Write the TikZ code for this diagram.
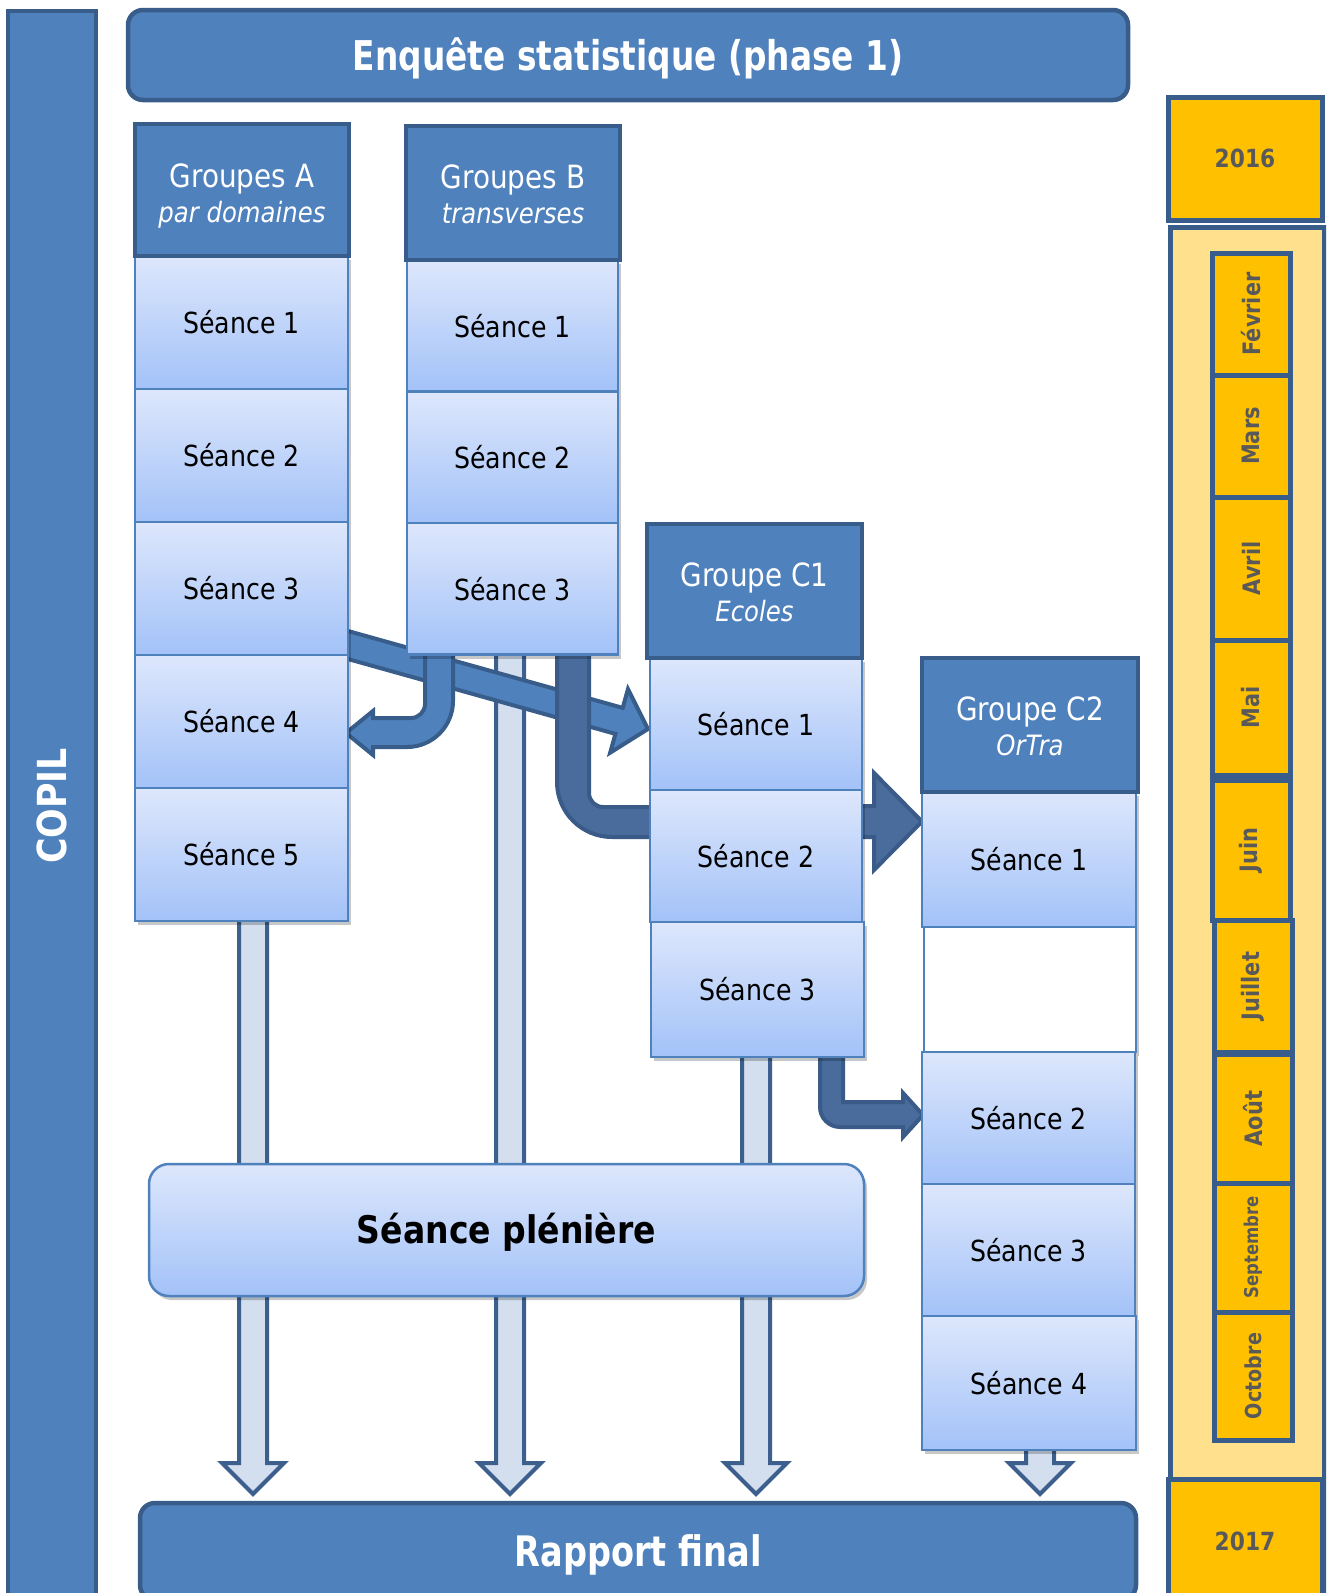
\documentclass[tikz,border=0pt]{standalone}
\usepackage{fontspec}
\setmainfont{DejaVu Sans}[FakeStretch=0.87]
\newfontfamily\narrowsans{DejaVu Sans}[FakeStretch=0.8]
\usetikzlibrary{calc,shadows}
\definecolor{hdr}{HTML}{4F81BD}
\definecolor{hdrline}{HTML}{385D8A}
\definecolor{setop}{HTML}{DDE7FC}
\definecolor{sebot}{HTML}{A3C2F8}
\definecolor{seline}{HTML}{4F81BD}
\definecolor{lightfill}{HTML}{D3DFEE}
\definecolor{lightline}{HTML}{3C5F8E}
\definecolor{darkfill}{HTML}{4A6C9C}
\definecolor{darkline}{HTML}{3A5A87}
\definecolor{gold}{HTML}{FFC000}
\definecolor{paleyellow}{HTML}{FFE08C}
\definecolor{greytext}{HTML}{595959}
\pgfdeclarelayer{arrowsback}
\pgfdeclarelayer{arrowsfront}
\pgfsetlayers{arrowsback,arrowsfront,main}
\tikzset{
  hdrbox/.style={draw=hdrline, fill=hdr, line width=4.5pt, text=white, align=center, inner sep=0pt},
  banner/.style={hdrbox, rounded corners=15pt, text height=30pt, text depth=0pt,
     font=\narrowsans\bfseries\fontsize{41}{46}\selectfont},
  grouphdr/.style={hdrbox},
  hdrtext/.style={text=white, align=center, font=\fontsize{32}{35}\selectfont},
  seancebox/.style={draw=seline, line width=2.5pt, top color=setop, bottom color=sebot, inner sep=0pt,
     font=\fontsize{29}{34}\selectfont,
     drop shadow={shadow xshift=3pt, shadow yshift=-4pt, opacity=0.22, fill=black}},
  blankbox/.style={draw=seline, line width=2.5pt, fill=white,
     drop shadow={shadow xshift=3pt, shadow yshift=-4pt, opacity=0.22, fill=black}},
  plenbox/.style={seancebox, rounded corners=20pt, text height=27.7pt, text depth=0pt,
     font=\bfseries\fontsize{38}{42}\selectfont},
  yearbox/.style={draw=hdrline, fill=gold, line width=5pt, text=greytext, inner sep=0pt,
     font=\bfseries\fontsize{25}{30}\selectfont},
  panelbox/.style={draw=hdrline, fill=paleyellow, line width=5pt, inner sep=0pt},
  monthbox/.style={draw=hdrline, fill=gold, line width=5pt, text=greytext, inner sep=0pt, rotate=90,
     minimum height=78pt, font=\bfseries\fontsize{24}{28}\selectfont},
  lightarr/.style={draw=lightline, fill=lightfill, line width=4pt},
  midarr/.style={draw=hdrline, fill=hdr, line width=4pt},
  darkarr/.style={draw=darkline, fill=darkfill, line width=4pt},
}
\newcommand\lightdown[2]{%
  \draw[lightarr] ($(#1)+(-14,-8)$) -- ($(#2)+(-14,-31)$) -- ($(#2)+(-31,-31)$) -- (#2)
    -- ($(#2)+(31,-31)$) -- ($(#2)+(14,-31)$) -- ($(#1)+(14,-8)$) -- cycle;}
\begin{document}
\begin{tikzpicture}[x=1pt,y=-1pt]
\useasboundingbox (0,0) rectangle (1326,1593);
\clip (0,0) rectangle (1326,1593);

% COPIL bar and title banners
\node[hdrbox, rotate=90, minimum width=1590pt, minimum height=88pt,
      font=\bfseries\fontsize{40}{44}\selectfont] (copil) at (52,806) {COPIL};
\node[banner, minimum width=1000pt, minimum height=90pt] (enq) at (628,55) {Enquête statistique (phase 1)};

% Groupes A
\node[seancebox, minimum width=213pt, minimum height=133pt] (A1) at (241.5,322.5) {Séance 1};
\node[seancebox, minimum width=213pt, minimum height=133pt] (A2) at (241.5,455.5) {Séance 2};
\node[seancebox, minimum width=213pt, minimum height=133pt] (A3) at (241.5,588.5) {Séance 3};
\node[seancebox, minimum width=213pt, minimum height=133pt] (A4) at (241.5,721.5) {Séance 4};
\node[seancebox, minimum width=213pt, minimum height=133pt] (A5) at (241.5,854.5) {Séance 5};
\node[grouphdr, minimum width=214pt, minimum height=132pt,
      label={[hdrtext, yshift=-6pt]center:Groupes A\\{\fontsize{28}{35}\selectfont\itshape par domaines}}]
  (GA) at (242,190) {};

% Groupes B
\node[seancebox, minimum width=211pt, minimum height=131.5pt] (B1) at (512.5,325.75) {Séance 1};
\node[seancebox, minimum width=211pt, minimum height=131.5pt] (B2) at (512.5,457.25) {Séance 2};
\node[seancebox, minimum width=211pt, minimum height=131.5pt] (B3) at (512.5,588.75) {Séance 3};
\node[grouphdr, minimum width=214pt, minimum height=134pt,
      label={[hdrtext, yshift=-1pt]center:Groupes B\\{\fontsize{28}{35}\selectfont\itshape transverses}}]
  (GB) at (513,193) {};

% Groupe C1
\node[seancebox, minimum width=212pt, minimum height=132pt] (C11) at (756,724) {Séance 1};
\node[seancebox, minimum width=212pt, minimum height=132pt] (C12) at (756,856) {Séance 2};
\node[seancebox, minimum width=213pt, minimum height=135pt] (C13) at (757.5,989.5) {Séance 3};
\node[grouphdr, minimum width=215pt, minimum height=134pt,
      label={[hdrtext, yshift=-1pt]center:Groupe C1\\{\fontsize{28}{35}\selectfont\itshape Ecoles}}]
  (GC1) at (754.5,591) {};

% Groupe C2
\node[seancebox, minimum width=214pt, minimum height=135pt] (C21) at (1029,859.5) {Séance 1};
\node[blankbox, minimum width=212pt, minimum height=125pt] (C2b) at (1030,989.5) {};
\node[seancebox, minimum width=213pt, minimum height=132pt] (C22) at (1028.5,1118) {Séance 2};
\node[seancebox, minimum width=213pt, minimum height=132pt] (C23) at (1028.5,1250) {Séance 3};
\node[seancebox, minimum width=214pt, minimum height=134pt] (C24) at (1029,1383) {Séance 4};
\node[grouphdr, minimum width=216pt, minimum height=134pt,
      label={[hdrtext, yshift=-1pt]center:Groupe C2\\{\fontsize{28}{35}\selectfont\itshape OrTra}}]
  (GC2) at (1030,725) {};

% Plenary and final report
\node[plenbox, minimum width=715pt, minimum height=132pt] (plen) at (506.5,1230) {Séance plénière};
\node[banner, minimum width=996pt, minimum height=97pt, font=\narrowsans\bfseries\fontsize{42}{46}\selectfont]
  (rap) at (638,1551.5) {Rapport final};

% Timeline
\node[yearbox, minimum width=154pt, minimum height=123pt] (y16) at (1245,158.5) {2016};
\node[panelbox, anchor=north west, minimum width=154pt, minimum height=1390pt] (panel) at (1168,225) {};
\node[yearbox, minimum width=154pt, minimum height=124pt] (y17) at (1245,1541) {2017};
\node[monthbox, minimum width=122pt] (m2) at (1251,314) {Février};
\node[monthbox, minimum width=122pt] (m3) at (1251,436) {Mars};
\node[monthbox, minimum width=143pt] (m4) at (1251,568.5) {Avril};
\node[monthbox, minimum width=135pt] (m5) at (1251,707.5) {Mai};
\node[monthbox, minimum width=140pt] (m6) at (1251,850) {Juin};
\node[monthbox, minimum width=132pt] (m7) at (1253,986) {Juillet};
\node[monthbox, minimum width=129pt] (m8) at (1253,1118.5) {Août};
\node[monthbox, minimum width=129pt, font=\bfseries\fontsize{19}{22}\selectfont] (m9) at (1253,1247.5) {Septembre};
\node[monthbox, minimum width=128pt, font=\bfseries\fontsize{22}{26}\selectfont] (m10) at (1253,1376) {Octobre};

% Light arrows towards the final report
\begin{pgfonlayer}{arrowsback}
  \coordinate (t1) at (253,1494);  \coordinate (s1) at (A5.south -| t1);
  \coordinate (t2) at (510,1494);  \coordinate (s2) at (B3.south -| t2);
  \coordinate (t3) at (756,1494);  \coordinate (s3) at (C13.south -| t3);
  \coordinate (t4) at (1040,1494); \coordinate (s4) at (C24.south -| t4);
  \lightdown{s1}{t1}
  \lightdown{s2}{t2}
  \lightdown{s3}{t3}
  \lightdown{s4}{t4}
\end{pgfonlayer}

% Flow arrows between groups
\begin{pgfonlayer}{arrowsfront}
  % diagonal A -> C1
  \begin{scope}[shift={(348,645)}, rotate=-15.64]
    \draw[midarr] (-8,-13.5) -- (281.5,-13.5) -- (281.5,-33) -- (311.5,0) -- (281.5,33) -- (281.5,13.5) -- (-8,13.5) -- cycle;
  \end{scope}
  % B3 -> A4
  \draw[midarr] (453,648) -- (453,701) .. controls (453,726.4) and (432.4,747) .. (407,747) -- (373,747)
    -- (373,755) -- (346,733) -- (373,711) -- (373,718) -- (411,718)
    .. controls (418.7,718) and (425,711.7) .. (425,704) -- (425,648) -- cycle;
  % B3 -> C1 seance 2
  \draw[darkarr] (557,648) -- (557,782) .. controls (557,812.4) and (581.6,837) .. (612,837) -- (656,837)
    -- (656,807) -- (603,807) .. controls (595.3,807) and (589,800.7) .. (589,793) -- (589,648) -- cycle;
  % C1 -> C2
  \draw[darkarr] (856,806) -- (874,806) -- (874,773) -- (922,821.5) -- (874,870) -- (874,837) -- (856,837) -- cycle;
  % C1 seance 3 -> C2 seance 2
  \draw[darkarr] (820,1050) -- (820,1107) .. controls (820,1118) and (829,1127) .. (840,1127) -- (903,1127)
    -- (903,1137) -- (923,1115) -- (903,1093) -- (903,1102) -- (843,1102) -- (843,1050) -- cycle;
\end{pgfonlayer}
\end{tikzpicture}
\end{document}
